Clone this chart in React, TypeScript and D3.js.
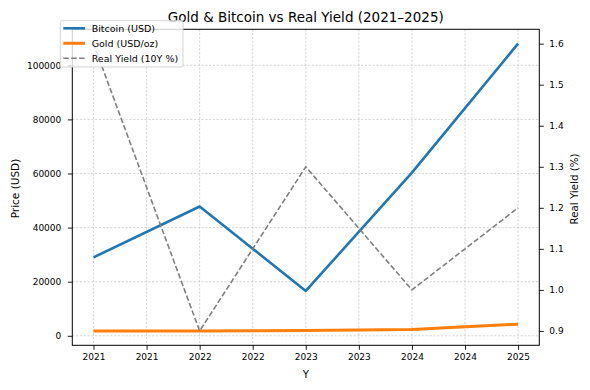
import React, { useEffect, useRef } from 'react';
import * as d3 from 'd3';

// data
const years = [2021, 2022, 2023, 2024, 2025];
const bitcoin = [29000, 47800, 16600, 60300, 108000];
const gold = [1800, 1800, 1950, 2350, 4300];
const realYield = [1.6, 0.9, 1.3, 1.0, 1.2];

const xTickValues = [2021, 2021.5, 2022, 2022.5, 2023, 2023.5, 2024, 2024.5, 2025];
const xTickLabels = ['2021', '2021', '2022', '2022', '2023', '2023', '2024', '2024', '2025'];
const priceTicks = [0, 20000, 40000, 60000, 80000, 100000];
const yieldTicks = [0.9, 1.0, 1.1, 1.2, 1.3, 1.4, 1.5, 1.6];

const legendItems = [
  { label: 'Bitcoin (USD)', color: '#1f77b4', width: 2.6, dash: null },
  { label: 'Gold (USD/oz)', color: '#ff7f0e', width: 3, dash: null },
  { label: 'Real Yield (10Y %)', color: '#7f7f7f', width: 1.6, dash: '5.5,2.4' },
];

const FONT = 'DejaVu Sans, sans-serif';

// matplotlib style 5% padding
const padded = (vals: number[]): [number, number] => {
  const [lo, hi] = d3.extent(vals) as [number, number];
  const m = (hi - lo) * 0.05;
  return [lo - m, hi + m];
};

const App = () => {
  const ref = useRef<SVGSVGElement>(null);

  useEffect(() => {
    const svg = d3.select(ref.current).attr('width', 590).attr('height', 390);
    svg.selectAll('*').remove();

    const left = 72.3, right = 539.3, top = 29.3, bottom = 345.3;

    const x = d3.scaleLinear().domain(padded(years)).range([left, right]);
    const y = d3.scaleLinear().domain(padded([...bitcoin, ...gold])).range([bottom, top]);
    const y2 = d3.scaleLinear().domain(padded(realYield)).range([bottom, top]);

    svg.append('rect').attr('width', 590).attr('height', 390).attr('fill', '#fff');

    // grid
    const grid = svg.append('g').attr('stroke', '#b8b8b8').attr('stroke-width', 0.6)
      .attr('stroke-dasharray', '2.2,1.6');
    grid.selectAll('.gx').data(xTickValues).enter().append('line')
      .attr('x1', d => x(d)).attr('x2', d => x(d)).attr('y1', top).attr('y2', bottom);
    grid.selectAll('.gy').data(priceTicks).enter().append('line')
      .attr('x1', left).attr('x2', right).attr('y1', d => y(d)).attr('y2', d => y(d));

    // axes
    const styleAxis = (g: any) => {
      g.select('.domain').remove();
      g.selectAll('line').attr('stroke', '#000').attr('stroke-width', 0.9);
      g.selectAll('text').attr('font-family', FONT).attr('font-size', 9).attr('fill', '#000');
    };

    svg.append('g').attr('transform', `translate(0,${bottom})`)
      .call(d3.axisBottom(x).tickValues(xTickValues).tickSize(4.5).tickPadding(3.5)
        .tickFormat((_d, i) => xTickLabels[i]))
      .call(styleAxis);

    svg.append('g').attr('transform', `translate(${left},0)`)
      .call(d3.axisLeft(y).tickValues(priceTicks).tickSize(4.5).tickPadding(6.5)
        .tickFormat(d3.format('d')))
      .call(styleAxis);

    svg.append('g').attr('transform', `translate(${right},0)`)
      .call(d3.axisRight(y2).tickValues(yieldTicks).tickSize(4.5).tickPadding(5.5)
        .tickFormat(d3.format('.1f')))
      .call(styleAxis);

    // lines
    const priceLine = (vals: number[]) =>
      d3.line<number>().x((_d, i) => x(years[i])).y(d => y(d))(vals);
    const yieldLine = d3.line<number>().x((_d, i) => x(years[i])).y(d => y2(d));

    svg.append('path').attr('d', priceLine(bitcoin)).attr('fill', 'none')
      .attr('stroke', '#1f77b4').attr('stroke-width', 2.6).attr('stroke-linejoin', 'round');
    svg.append('path').attr('d', priceLine(gold)).attr('fill', 'none')
      .attr('stroke', '#ff7f0e').attr('stroke-width', 3).attr('stroke-linejoin', 'round');
    svg.append('path').attr('d', yieldLine(realYield)).attr('fill', 'none')
      .attr('stroke', '#7f7f7f').attr('stroke-width', 1.6).attr('stroke-dasharray', '5.5,2.4');

    // spines
    svg.append('rect').attr('x', left).attr('y', top)
      .attr('width', right - left).attr('height', bottom - top)
      .attr('fill', 'none').attr('stroke', '#000').attr('stroke-width', 1);

    // labels
    svg.append('text').attr('x', (left + right) / 2).attr('y', 21.5)
      .attr('text-anchor', 'middle').attr('font-family', FONT).attr('font-size', 13.5)
      .text('Gold & Bitcoin vs Real Yield (2021–2025)');
    svg.append('text').attr('x', (left + right) / 2).attr('y', 378)
      .attr('text-anchor', 'middle').attr('font-family', FONT).attr('font-size', 10.2)
      .text('Y');
    svg.append('text').attr('transform', 'translate(19,188.5) rotate(-90)')
      .attr('text-anchor', 'middle').attr('font-family', FONT).attr('font-size', 10.5)
      .text('Price (USD)');
    svg.append('text').attr('transform', 'translate(578,189) rotate(-90)')
      .attr('text-anchor', 'middle').attr('font-family', FONT).attr('font-size', 10.3)
      .text('Real Yield (%)');

    // legend
    const lg = svg.append('g');
    lg.append('rect').attr('x', 60.3).attr('y', 20.7).attr('width', 122.7).attr('height', 46.3)
      .attr('rx', 2).attr('fill', '#fff').attr('fill-opacity', 0.8)
      .attr('stroke', '#d0d0d0').attr('stroke-width', 0.9);
    const rows = lg.selectAll('.item').data(legendItems).enter().append('g')
      .attr('transform', (_d, i) => `translate(0,${28.3 + i * 15})`);
    rows.append('line').attr('x1', 63.3).attr('x2', 85).attr('y1', 0).attr('y2', 0)
      .attr('stroke', d => d.color).attr('stroke-width', d => d.width)
      .attr('stroke-dasharray', d => d.dash);
    rows.append('text').attr('x', 91.7).attr('y', 0).attr('dy', '0.35em')
      .attr('font-family', FONT).attr('font-size', 9.5).attr('fill', '#000')
      .text(d => d.label);
  }, []);

  return (
    <svg ref={ref} style={{ position: 'absolute', left: 0, top: 0, display: 'block' }}></svg>
  );
};

export default App;
